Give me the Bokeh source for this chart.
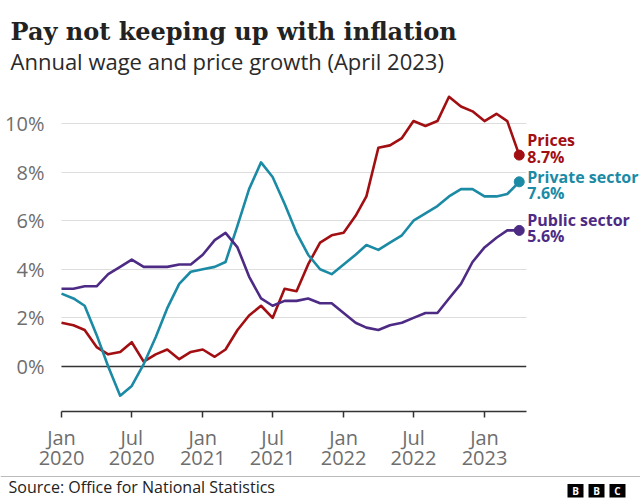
import pandas as pd
from bokeh.plotting import figure
from bokeh.models import (Range1d, FixedTicker, DatetimeTickFormatter, Grid,
                          PrintfTickFormatter, Span, Label, BoxAnnotation, ColumnDataSource)
from bokeh.embed import file_html
from bokeh.resources import INLINE
from bokeh.core.properties import value

# ---------------- data ----------------
title_text = "Pay not keeping up with inflation"
subtitle_text = "Annual wage and price growth (April 2023)"
source_text = "Source: Office for National Statistics"

months = pd.date_range("2020-01-01", periods=40, freq="MS")

prices = [1.8, 1.7, 1.5, 0.8, 0.5, 0.6, 1.0, 0.2, 0.5, 0.7, 0.3, 0.6,
          0.7, 0.4, 0.7, 1.5, 2.1, 2.5, 2.0, 3.2, 3.1, 4.2, 5.1, 5.4,
          5.5, 6.2, 7.0, 9.0, 9.1, 9.4, 10.1, 9.9, 10.1, 11.1, 10.7, 10.5,
          10.1, 10.4, 10.1, 8.7]

private_sector = [3.0, 2.8, 2.5, 1.3, 0.0, -1.2, -0.8, 0.1, 1.2, 2.4, 3.4, 3.9,
                  4.0, 4.1, 4.3, 5.8, 7.3, 8.4, 7.8, 6.7, 5.5, 4.6, 4.0, 3.8,
                  4.2, 4.6, 5.0, 4.8, 5.1, 5.4, 6.0, 6.3, 6.6, 7.0, 7.3, 7.3,
                  7.0, 7.0, 7.1, 7.6]

public_sector = [3.2, 3.2, 3.3, 3.3, 3.8, 4.1, 4.4, 4.1, 4.1, 4.1, 4.2, 4.2,
                 4.6, 5.2, 5.5, 4.9, 3.7, 2.8, 2.5, 2.7, 2.7, 2.8, 2.6, 2.6,
                 2.2, 1.8, 1.6, 1.5, 1.7, 1.8, 2.0, 2.2, 2.2, 2.8, 3.4, 4.3,
                 4.9, 5.3, 5.6, 5.6]

series_names = ["Prices", "Private sector", "Public sector"]
series_colors = ["#a20f12", "#1b8aa5", "#4d2b84"]

x_tick_dates = ["2020-01-01", "2020-07-01", "2021-01-01", "2021-07-01",
                "2022-01-01", "2022-07-01", "2023-01-01"]
y_ticks = [0, 2, 4, 6, 8, 10]

# ---------------- layout constants (pixels) ----------------
W, H = 640, 500
SANS = "Open Sans"
GREY = "#6e6e6e"
DAY_MS = 86400000.0

def ms(d):
    return pd.Timestamp(d).value / 1e6

axis_start = ms("2020-01-01")
axis_end = ms("2023-04-19")
px_per_day = 423 / 1096.0       # horizontal scale
left_px, right_px = 61, 640     # where the axis starts / canvas edge
px_per_unit = 24.3              # vertical scale
zero_px, axis_px = 366, 411     # rows of the 0% line and the x axis

x_start = axis_start - left_px / px_per_day * DAY_MS
x_end = axis_start + (right_px - left_px) / px_per_day * DAY_MS
y_end = zero_px / px_per_unit
y_start = -(H - zero_px) / px_per_unit
x_axis_y = -(axis_px - zero_px) / px_per_unit

p = figure(width=W, height=H, x_axis_type="datetime",
           x_range=Range1d(x_start, x_end), y_range=Range1d(y_start, y_end),
           min_border=0, toolbar_location=None, output_backend="svg")
p.outline_line_color = None
p.xgrid.visible = False

# horizontal grid lines limited to the axis extent
grid = p.ygrid[0]
if "cross_bounds" in Grid.properties():
    grid.cross_bounds = (axis_start, axis_end)
    grid.grid_line_color = "#dddddd"
    grid.grid_line_width = 1
else:
    grid.visible = False
    p.segment(x0=[axis_start] * len(y_ticks), x1=[axis_end] * len(y_ticks),
              y0=y_ticks, y1=y_ticks, line_color="#dddddd", line_width=1)

# zero line
p.segment(x0=[axis_start], x1=[axis_end], y0=[0], y1=[0],
          line_color="#333333", line_width=1.5)

# y axis
p.yaxis.fixed_location = axis_start
p.yaxis.ticker = FixedTicker(ticks=y_ticks)
p.yaxis.formatter = PrintfTickFormatter(format="%d%%")
p.yaxis.axis_line_color = None
p.yaxis.major_tick_line_color = None
p.yaxis.minor_tick_line_color = None
p.yaxis.major_label_text_font = SANS
p.yaxis.major_label_text_font_size = "20px"
p.yaxis.major_label_text_color = GREY
p.yaxis.major_label_standoff = 11

# x axis
p.xaxis.fixed_location = x_axis_y
p.xaxis.bounds = (axis_start, axis_end)
p.xaxis.ticker = FixedTicker(ticks=[ms(d) for d in x_tick_dates])
fmt = "%b\n%Y"
p.xaxis.formatter = DatetimeTickFormatter(days=fmt, months=fmt, years=fmt,
                                          hours=fmt, minutes=fmt)
p.xaxis.axis_line_color = "#333333"
p.xaxis.axis_line_width = 1.5
p.xaxis.major_tick_line_color = "#333333"
p.xaxis.major_tick_line_width = 1.5
p.xaxis.major_tick_out = 6
p.xaxis.major_tick_in = 0
p.xaxis.minor_tick_line_color = None
p.xaxis.major_label_text_font = SANS
p.xaxis.major_label_text_font_size = "20px"
p.xaxis.major_label_text_color = GREY
p.xaxis.major_label_text_line_height = 0.76
p.xaxis.major_label_standoff = 6

# series
source = ColumnDataSource(dict(x=[ms(m) for m in months], prices=prices,
                               private=private_sector, public=public_sector))
cols = ["prices", "private", "public"]
values = [prices, private_sector, public_sector]
name_offsets = [-15, -5, -10]
value_offsets = [2, 11, 6]
last_x = ms(months[-1])

for col, vals, name, color, off_n, off_v in zip(cols, values, series_names,
                                                series_colors, name_offsets, value_offsets):
    p.line("x", col, source=source, line_color=color, line_width=2.6, line_join="round")
    p.scatter(x=[last_x], y=[vals[-1]], size=10, color=color)
    p.text(x=[last_x], y=[vals[-1]], text=[name], x_offset=8, y_offset=off_n,
           text_font=value(SANS), text_font_style="bold", text_font_size="16px",
           text_color=color, text_baseline="alphabetic")
    p.text(x=[last_x], y=[vals[-1]], text=[f"{vals[-1]}%"], x_offset=8, y_offset=off_v,
           text_font=value(SANS), text_font_style="bold", text_font_size="16px",
           text_color=color, text_baseline="alphabetic")

# header (screen units, y measured from the bottom)
p.add_layout(Label(x=10, y=H - 31, x_units="screen", y_units="screen", text=title_text,
                   text_font="DejaVu Serif", text_font_style="bold", text_font_size="24px",
                   text_color="#222222", text_baseline="alphabetic"))
p.add_layout(Label(x=10, y=H - 60.5, x_units="screen", y_units="screen", text=subtitle_text,
                   text_font=SANS, text_font_size="22px", text_color="#2a2a2a",
                   text_baseline="alphabetic"))

# footer
p.add_layout(Span(location=H - 476, location_units="screen", dimension="width",
                  line_color="#bbbbbb", line_width=1))
p.add_layout(Label(x=8, y=14, x_units="screen", y_units="screen", text=source_text,
                   text_font=SANS, text_font_size="16px", text_color="#222222",
                   text_baseline="alphabetic"))
logo_letters = ["B", "B", "C"]
logo_left = [567, 588, 609]
for letter, left in zip(logo_letters, logo_left):
    p.add_layout(BoxAnnotation(left=left, right=left + 16, bottom=3, top=16.5,
                               left_units="screen", right_units="screen",
                               bottom_units="screen", top_units="screen",
                               fill_color="#000000", fill_alpha=1.0, line_color=None))
    p.add_layout(Label(x=left + 8, y=10, x_units="screen", y_units="screen", text=letter,
                       text_font=SANS, text_font_style="bold", text_font_size="10px",
                       text_color="#ffffff", text_align="center", text_baseline="middle"))

open("out.html", "w").write(file_html(p, INLINE))
